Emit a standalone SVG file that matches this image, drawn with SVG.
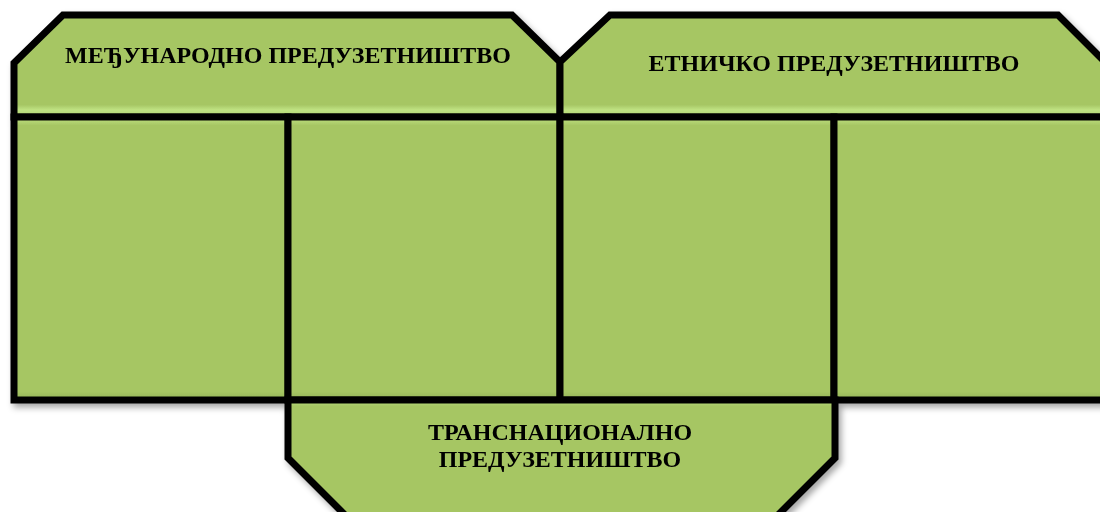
<svg xmlns="http://www.w3.org/2000/svg" width="1100" height="512" viewBox="0 0 1100 512">
<style>
.box{stroke:#000;stroke-width:7;stroke-linejoin:miter}
.hd{fill:url(#gh)}
.cl{fill:url(#gc)}
.bt{fill:url(#gb)}
.t{font-family:"Liberation Serif","Times New Roman",serif;font-weight:bold;font-size:24px;fill:#000;text-anchor:middle}
</style>
<defs>
<linearGradient id="gh" x1="0" y1="0" x2="0" y2="1">
<stop offset="0" stop-color="#a6c664"/>
<stop offset="0.88" stop-color="#a6c664"/>
<stop offset="0.93" stop-color="#bfe282"/>
<stop offset="1" stop-color="#b2d574"/>
</linearGradient>
<linearGradient id="gc" x1="0" y1="0" x2="0" y2="1">
<stop offset="0" stop-color="#c2e584"/>
<stop offset="0.03" stop-color="#a6c664"/>
<stop offset="0.97" stop-color="#a6c664"/>
<stop offset="1" stop-color="#93b356"/>
</linearGradient>
<linearGradient id="gb" x1="0" y1="0" x2="0" y2="1">
<stop offset="0" stop-color="#c4e888"/>
<stop offset="0.05" stop-color="#a6c664"/>
<stop offset="1" stop-color="#a6c664"/>
</linearGradient>
<filter id="sh" x="-5%" y="-5%" width="115%" height="120%">
<feDropShadow dx="3" dy="4" stdDeviation="3" flood-color="#000" flood-opacity="0.35"/>
</filter>
</defs>
<g filter="url(#sh)">
<g id="medjunarodno">
<polygon class="box hd" points="63,15 512,15 560,62 560,117 14,117 14,63"/>
<text class="t" x="288" y="63">МЕЂУНАРОДНО ПРЕДУЗЕТНИШТВО</text>
</g>
<g id="etnicko">
<polygon class="box hd" points="610,15 1058,15 1106,63 1106,117 560,117 560,62"/>
<text class="t" x="834" y="71">ЕТНИЧКО ПРЕДУЗЕТНИШТВО</text>
</g>
<g id="cell1"><rect class="box cl" x="14" y="117" width="274" height="283"/></g>
<g id="cell2"><rect class="box cl" x="288" y="117" width="272" height="283"/></g>
<g id="cell3"><rect class="box cl" x="560" y="117" width="274" height="283"/></g>
<g id="cell4"><rect class="box cl" x="834" y="117" width="272" height="283"/></g>
<g id="transnacionalno">
<polygon class="box bt" points="288,400 835,400 835,458 775,518 348,518 288,458"/>
<text class="t" x="560" y="440">ТРАНСНАЦИОНАЛНО</text>
<text class="t" x="560" y="467">ПРЕДУЗЕТНИШТВО</text>
</g>
</g>
<g id="connectors"/>
</svg>
